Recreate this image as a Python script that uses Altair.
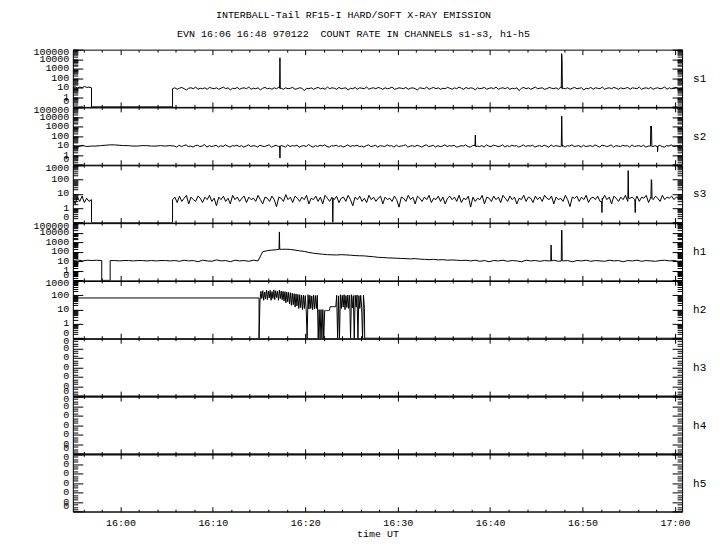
import altair as alt
import pandas as pd

# ---------------- data (time in minutes after 16:00 UT, counts) ----------------
X_MIN, X_MAX = -5.15, 60.77

# s1
s1_pre_t = [-5.15, -4.9, -4.65, -4.4, -4.15, -3.9, -3.65, -3.4, -3.13]
s1_pre_v = [11, 13, 9, 12, 10, 14, 11, 12, 10]
s1_gap_t = [-3.13, 5.64]
s1_gap_v = [0, 0]
s1_t0 = 5.64
s1_v = [8, 10, 7, 9, 11, 8, 6, 9, 10, 8, 12, 7, 9, 8, 10, 7, 11, 9, 8, 10,
        7, 9, 12, 8, 10, 6, 9, 8, 11, 7, 9, 10, 8, 12, 7, 9, 8, 10, 6, 9,
        11, 8, 9, 7, 10, 8, 12, 9, 7, 10, 8, 9, 11, 7, 8, 10, 9, 5, 9, 8,
        10, 7, 9, 11, 8, 9, 7, 12, 8, 10, 9, 7, 11, 8, 9, 10, 6, 9, 8, 11,
        7, 10, 9, 8, 12, 7, 9, 10, 8, 11, 9, 7, 10, 8, 9, 12, 7, 8, 10, 9,
        8, 11, 7, 9, 10, 8, 6, 10, 9, 8, 12, 7, 9, 11, 8, 10, 7, 9, 8, 11,
        9, 7, 10, 8, 12, 9, 7, 11, 8, 10, 9, 6, 10, 8, 9, 11, 7, 9, 10, 8,
        12, 7, 9, 10, 8, 11, 7, 9, 8, 10, 5, 9, 11, 8, 10, 7, 9, 12, 8, 9,
        10, 7, 8, 11, 9, 8, 10, 7, 12, 9, 8, 10, 7, 9, 11, 8, 9, 10, 6, 9,
        8, 11, 7, 10, 9, 8, 12, 7, 9, 10, 8, 11, 9, 7, 10, 8, 9, 11, 7, 10,
        9, 8, 12, 7, 9, 10, 8, 11, 7, 9, 10, 8, 9, 12, 7, 10, 8, 9, 11, 8,
        9, 10]
s1_spk_t = [17.22, 17.26, 17.30, 47.70, 47.74, 47.78, 47.82]
s1_spk_v = [9, 14000, 8, 9, 38000, 12000, 8]

# s2
s2_pre_t0 = -5.15
s2_pre_v = [10, 7, 11, 8,
            9, 9, 10, 11, 12, 12, 11, 10, 10, 9, 9, 10, 10, 9, 9, 10, 9, 10]
s2_t0 = 5.85
s2_v = [9, 7, 11, 8, 10, 12, 8, 9, 7, 10, 11, 8, 9, 13, 7, 10, 8, 9, 11, 7,
        10, 8, 12, 9, 7, 10, 9, 11, 8, 10, 7, 9, 12, 8, 10, 9, 7, 11, 9, 8,
        10, 12, 7, 9, 11, 8, 10, 9, 7, 12, 8, 10, 9, 11, 7, 9, 10, 8, 13, 9,
        7, 10, 8, 11, 9, 12, 8, 7, 10, 9, 11, 8, 10, 7, 9, 12, 8, 10, 9, 11,
        8, 9, 7, 10, 12, 8, 9, 11, 7, 10, 9, 8, 12, 9, 10, 7, 11, 8, 9, 10,
        12, 7, 9, 10, 8, 11, 9, 7, 10, 12, 8, 9, 11, 7, 10, 8, 9, 12, 8, 10,
        9, 11, 7, 8, 10, 9, 12, 8, 7, 10, 11, 9, 8, 10, 7, 12, 9, 8, 11, 10,
        8, 9, 12, 7, 10, 8, 11, 9, 10, 7, 9, 12, 8, 10, 9, 11, 7, 9, 10, 8,
        11, 9, 7, 12, 8, 10, 9, 8, 11, 7, 10, 9, 12, 8, 9, 10, 7, 11, 8, 9,
        10, 8, 12, 9, 7, 11, 10, 8, 9, 12, 7, 10, 9, 8, 11, 9, 10, 7, 12, 8,
        9, 10, 8, 11, 7, 9, 12, 8, 10, 9, 11, 8, 7, 10, 9, 12, 8, 9, 10, 11,
        9]
s2_spk_t = [17.22, 17.26, 17.30, 38.36, 38.40, 38.44, 47.70, 47.75, 47.80,
            57.34, 57.38, 57.42, 57.46, 57.50, 58.08, 58.12, 58.16]
s2_spk_v = [9, 0.5, 9, 9, 130, 8, 9, 12000, 8,
            9, 1100, 800, 1150, 8, 8, 2.3, 9]

# s3
s3_pre_t = [-5.15, -4.9, -4.65, -4.4, -4.15, -3.9, -3.65, -3.4, -3.13]
s3_pre_v = [5, 2, 6, 3, 7, 2.5, 5, 3, 4]
s3_gap_t = [-3.13, 5.64]
s3_gap_v = [0, 0]
s3_t0 = 5.64
s3_v = [4, 6, 2.5, 7, 3, 5, 8, 2, 6, 4, 3, 7, 5, 2.5, 6, 4, 8, 3, 5, 1.5,
        6, 4, 7, 3, 5, 2, 8, 4, 6, 3, 5, 7, 2.5, 6, 4, 5, 3, 8, 4, 2,
        6, 5, 3, 7, 4, 1.3, 6, 5, 3, 9, 4, 6, 2.5, 7, 5, 3, 6, 4, 8, 2,
        5, 4, 7, 3, 6, 2, 8, 5, 3, 6, 4, 7, 2.5, 5, 6, 3, 8, 4, 1.5, 6,
        4, 7, 3, 5, 2.5, 8, 4, 6, 3, 5, 7, 2, 6, 4, 5, 3, 7, 4, 1.2, 6,
        5, 3, 8, 4, 6, 2, 7, 5, 3, 6, 4, 8, 2.5, 5, 4, 7, 3, 6, 2, 5,
        7, 4, 6, 3, 8, 2.5, 5, 4, 7, 1.2, 6, 3, 5, 4, 8, 2, 6, 5, 3, 7,
        4, 6, 2.5, 8, 5, 3, 7, 4, 6, 2, 5, 4, 8, 3, 6, 5, 2.5, 7, 4, 6,
        3, 8, 5, 4, 7, 2, 6, 4, 5, 3, 8, 4, 1.3, 6, 5, 7, 3, 6, 4, 8,
        2.5, 5, 6, 4, 7, 3, 5, 8, 4, 6, 2, 7, 5, 3, 6, 4, 8, 3, 5, 6,
        4, 7, 3, 6, 5, 8, 2.5, 6, 4, 7, 5, 3, 8, 4, 6, 5, 7, 4, 6, 5,
        5, 6]
s3_spk_t = [22.94, 22.98, 23.02, 52.06, 52.10, 52.14, 54.90, 54.94, 54.98,
            55.66, 55.70, 55.74, 57.40, 57.44, 57.48, 57.52]
s3_spk_v = [4, 0, 5, 3, 0.5, 4, 4, 430, 5, 3, 0.5, 4, 5, 100, 90, 5]

# h1
h1_pre_t = [-5.15, -4.6, -4.1, -3.6, -3.1, -2.6, -2.02]
h1_pre_v = [12, 14, 11, 13, 12, 13, 12]
h1_gap_t = [-2.02, -1.11]
h1_gap_v = [0, 0]
h1_t0 = -1.11
h1_v = [12, 12, 11, 12, 12, 11, 12, 12, 11, 12, 11, 12, 12, 11,
        12, 10, 13, 11, 12, 9, 13, 11, 10, 14, 11, 12, 9, 13, 11, 12, 10, 13, 11,
        100, 130, 150, 165, 180, 185, 175, 150, 125, 110,
        85, 70, 62, 55, 50, 48, 46, 50, 47, 44,
        40, 38, 37, 33, 30, 26, 25, 23, 22, 21,
        20, 19, 18, 19, 17, 16, 15, 16, 14, 15,
        13, 14, 13, 12, 13,
        11, 13, 10, 12, 9, 12, 11, 13, 10, 12, 11, 9, 13, 11, 12, 10, 12, 11, 13, 10,
        11, 12, 9, 12, 11, 13, 10, 12, 11, 10, 13, 11, 12, 9, 12, 11, 13, 10, 12, 11,
        10, 12, 13, 11, 12, 10, 11]
h1_spk_t = [17.16, 17.20, 17.24, 46.56, 46.60, 46.64, 47.70, 47.73, 47.77, 47.80]
h1_spk_v = [180, 12000, 180, 11, 520, 11, 11, 19000, 15000, 11]

# h2
h2_flat_t = [-5.15, 15.0, 15.0]
h2_flat_v = [65, 65, 0]
h2_t0 = 15.1
h2_v = [40, 190, 60, 210, 45, 170, 55, 230, 50, 200, 65, 220, 45, 180, 60, 240, 50, 210, 70, 190,
        45, 230, 60, 200, 50,
        190, 40, 180, 30, 170, 35, 160, 25, 150, 20, 140, 22, 130, 15, 125, 18, 115, 12, 110, 14,
        100, 10,
        105, 12, 95, 10, 0, 110, 11, 100, 12, 90, 10, 105, 11, 95, 12, 100, 0, 10, 0, 10, 0, 10, 0,
        8.5, 8.5, 8.5, 8.5, 8.5, 8.5,
        16, 16, 16, 16, 16, 16, 16,
        100, 0, 90, 0, 110,
        12, 100, 15, 110, 10, 95, 14, 105, 12, 100, 0, 110, 13, 95, 0, 100, 15, 105, 0, 95,
        12, 100, 14, 0, 105, 12]
h2_tail_t = [26.43, 60.77]
h2_tail_v = [0, 0]

# h3, h4, h5 (no counts)
h3_t = [-5.15, 60.77]
h3_v = [0, 0]
h4_t = [-5.15, 60.77]
h4_v = [0, 0]
h5_t = [-5.15, 60.77]
h5_v = [0, 0]


def grid(t0, step, vals):
    return [round(t0 + step * k, 3) for k in range(len(vals))]


def build(parts):
    rows = []
    for ts, vs in parts:
        rows += list(zip(ts, vs))
    df = pd.DataFrame(rows, columns=["t", "v"])
    df["seq"] = range(len(df))
    df = df.sort_values(["t", "seq"], kind="stable").reset_index(drop=True)
    df["i"] = range(len(df))
    return df[["t", "v", "i"]]


d_s1 = build([(s1_pre_t, s1_pre_v), (s1_gap_t, s1_gap_v),
              (grid(s1_t0, 0.25, s1_v), s1_v), (s1_spk_t, s1_spk_v)])
d_s2 = build([(grid(s2_pre_t0, 0.5, s2_pre_v), s2_pre_v),
              (grid(s2_t0, 0.25, s2_v), s2_v), (s2_spk_t, s2_spk_v)])
d_s3 = build([(s3_pre_t, s3_pre_v), (s3_gap_t, s3_gap_v),
              (grid(s3_t0, 0.25, s3_v), s3_v), (s3_spk_t, s3_spk_v)])
d_h1 = build([(h1_pre_t, h1_pre_v), (h1_gap_t, h1_gap_v),
              (grid(h1_t0, 0.5, h1_v), h1_v), (h1_spk_t, h1_spk_v)])
d_h2 = build([(h2_flat_t, h2_flat_v), (grid(h2_t0, 0.1, h2_v), h2_v),
              (h2_tail_t, h2_tail_v)])
d_h3 = build([(h3_t, h3_v)])
d_h4 = build([(h4_t, h4_v)])
d_h5 = build([(h5_t, h5_v)])

# ---------------- layout ----------------
MONO = "Liberation Mono"
W, H = 611, 57.4

X_MAJ = [0, 10, 20, 30, 40, 50, 60]
X_MIN_T = [m for m in range(-4, 61, 2) if m % 10 != 0]

LOG6 = [0.1, 1, 10, 100, 1000, 10000, 100000]
LOG6_MIN = [m * 10 ** e for e in range(-1, 5) for m in range(2, 10)]
LOG4 = [0.1, 1, 10, 100, 1000]
LOG4_MIN = [m * 10 ** e for e in range(-1, 3) for m in range(2, 10)]
LIN = [0, 1, 2, 3, 4, 5, 6]
LIN_MIN = [round(k * 0.25, 2) for k in range(0, 25) if k % 4 != 0]

X_LABEL = ("(16 + floor(datum.value / 60)) + ':' + "
           "(datum.value % 60 < 10 ? '0' : '') + (datum.value % 60)")


def panel(df, name, kind, top=False, bottom=False):
    xs = alt.Scale(domain=[X_MIN, X_MAX], nice=False, zero=False)
    if kind == "log6":
        ys = alt.Scale(type="log", domain=[0.1, 100000], nice=False)
        maj, mnr, lo, hi = LOG6, LOG6_MIN, 0.1, 100000
        lab = dict(format="d")
    elif kind == "log4":
        ys = alt.Scale(type="log", domain=[0.1, 1000], nice=False)
        maj, mnr, lo, hi = LOG4, LOG4_MIN, 0.1, 1000
        lab = dict(format="d")
    else:
        ys = alt.Scale(domain=[0, 6], nice=False, zero=False)
        maj, mnr, lo, hi = LIN, LIN_MIN, 0, 6
        lab = dict(labelExpr="'0'")

    lab_off = {"condition": [{"test": f"datum.value <= {lo}", "value": -6},
                             {"test": f"datum.value >= {hi}", "value": 2}],
               "value": -1}

    base = alt.Chart(df).transform_calculate(yv=f"max(datum.v, {lo})")

    if bottom:
        xa_major = alt.Axis(orient="bottom", values=X_MAJ, tickSize=5, offset=-5,
                            domain=False, grid=False, labels=True, labelExpr=X_LABEL,
                            labelPadding=6, labelFlush=False, title="time UT",
                            titlePadding=1)
        xa_minor = alt.Axis(orient="bottom", values=X_MIN_T, tickSize=2.5, offset=-2.5,
                            domain=False, grid=False, labels=False, title=None)
    else:
        xa_major = alt.Axis(orient="bottom", values=X_MAJ, tickSize=10, offset=-5,
                            domain=False, grid=False, labels=False, title=None)
        xa_minor = alt.Axis(orient="bottom", values=X_MIN_T, tickSize=5, offset=-2.5,
                            domain=False, grid=False, labels=False, title=None)

    ya_major = alt.Axis(orient="left", values=maj, tickSize=10, offset=-10, domain=False,
                        grid=False, labelPadding=4, labelFlush=False, labelOverlap=False,
                        labelBaseline="middle", labelOffset=lab_off, title=None, **lab)
    ya_minor = alt.Axis(orient="left", values=mnr, tickSize=5, offset=-5, domain=False,
                        grid=False, labels=False, title=None)
    yr_major = alt.Axis(orient="right", values=maj, tickSize=10, offset=-10, domain=False,
                        grid=False, labels=False, title=name, titleAngle=0,
                        titleAlign="left", titleBaseline="middle", titlePadding=10,
                        titleFont=MONO, titleFontSize=11, titleFontWeight="normal")
    yr_minor = alt.Axis(orient="right", values=mnr, tickSize=5, offset=-5, domain=False,
                        grid=False, labels=False, title=None)

    line = base.mark_line(color="black", strokeWidth=1, clip=True).encode(
        x=alt.X("t:Q", scale=xs, axis=xa_major),
        y=alt.Y("yv:Q", scale=ys, axis=ya_major),
        order="i:Q",
    )
    l2 = base.mark_line(opacity=0, clip=True).encode(
        x=alt.X("t:Q", scale=xs, axis=xa_minor),
        y=alt.Y("yv:Q", scale=ys, axis=ya_minor),
        order="i:Q",
    )
    if top:
        x3 = alt.X("t:Q", scale=xs, axis=alt.Axis(orient="top", values=X_MAJ, tickSize=5,
                                                   offset=-5, domain=False, grid=False,
                                                   labels=False, title=None))
        x4 = alt.X("t:Q", scale=xs, axis=alt.Axis(orient="top", values=X_MIN_T,
                                                   tickSize=2.5, offset=-2.5, domain=False,
                                                   grid=False, labels=False, title=None))
    else:
        x3 = alt.X("t:Q", scale=xs, axis=None)
        x4 = alt.X("t:Q", scale=xs, axis=None)
    l3 = base.mark_line(opacity=0, clip=True).encode(
        x=x3, y=alt.Y("yv:Q", scale=ys, axis=yr_major), order="i:Q")
    l4 = base.mark_line(opacity=0, clip=True).encode(
        x=x4, y=alt.Y("yv:Q", scale=ys, axis=yr_minor), order="i:Q")

    return alt.layer(line, l2, l3, l4).resolve_axis(
        x="independent", y="independent").properties(width=W, height=H)


panels = [
    panel(d_s1, "s1", "log6", top=True),
    panel(d_s2, "s2", "log6"),
    panel(d_s3, "s3", "log4"),
    panel(d_h1, "h1", "log6"),
    panel(d_h2, "h2", "log4"),
    panel(d_h3, "h3", "lin"),
    panel(d_h4, "h4", "lin"),
    panel(d_h5, "h5", "lin", bottom=True),
]

chart = alt.vconcat(*panels, spacing=0, bounds="flush").properties(
    title=alt.TitleParams(
        text="INTERBALL-Tail RF15-I HARD/SOFT X-RAY EMISSION",
        subtitle="EVN 16:06 16:48 970122\u00a0 COUNT RATE IN CHANNELS s1-s3, h1-h5",
        font=MONO, fontSize=10, fontWeight="normal", color="black",
        subtitleFont=MONO, subtitleFontSize=10, subtitleColor="black",
        subtitlePadding=9, offset=7, anchor="middle", frame="group", dx=-24,
    ),
    padding={"left": 24, "top": 1, "right": 5, "bottom": 5},
    background="white",
).configure_view(stroke="black", strokeWidth=1).configure_axis(
    labelFont=MONO, labelFontSize=10, labelColor="black", tickColor="black",
    tickWidth=1, titleFont=MONO, titleFontSize=10, titleFontWeight="normal",
    titleColor="black",
)

chart.save("out.html", embed_options={"renderer": "svg", "actions": False})
